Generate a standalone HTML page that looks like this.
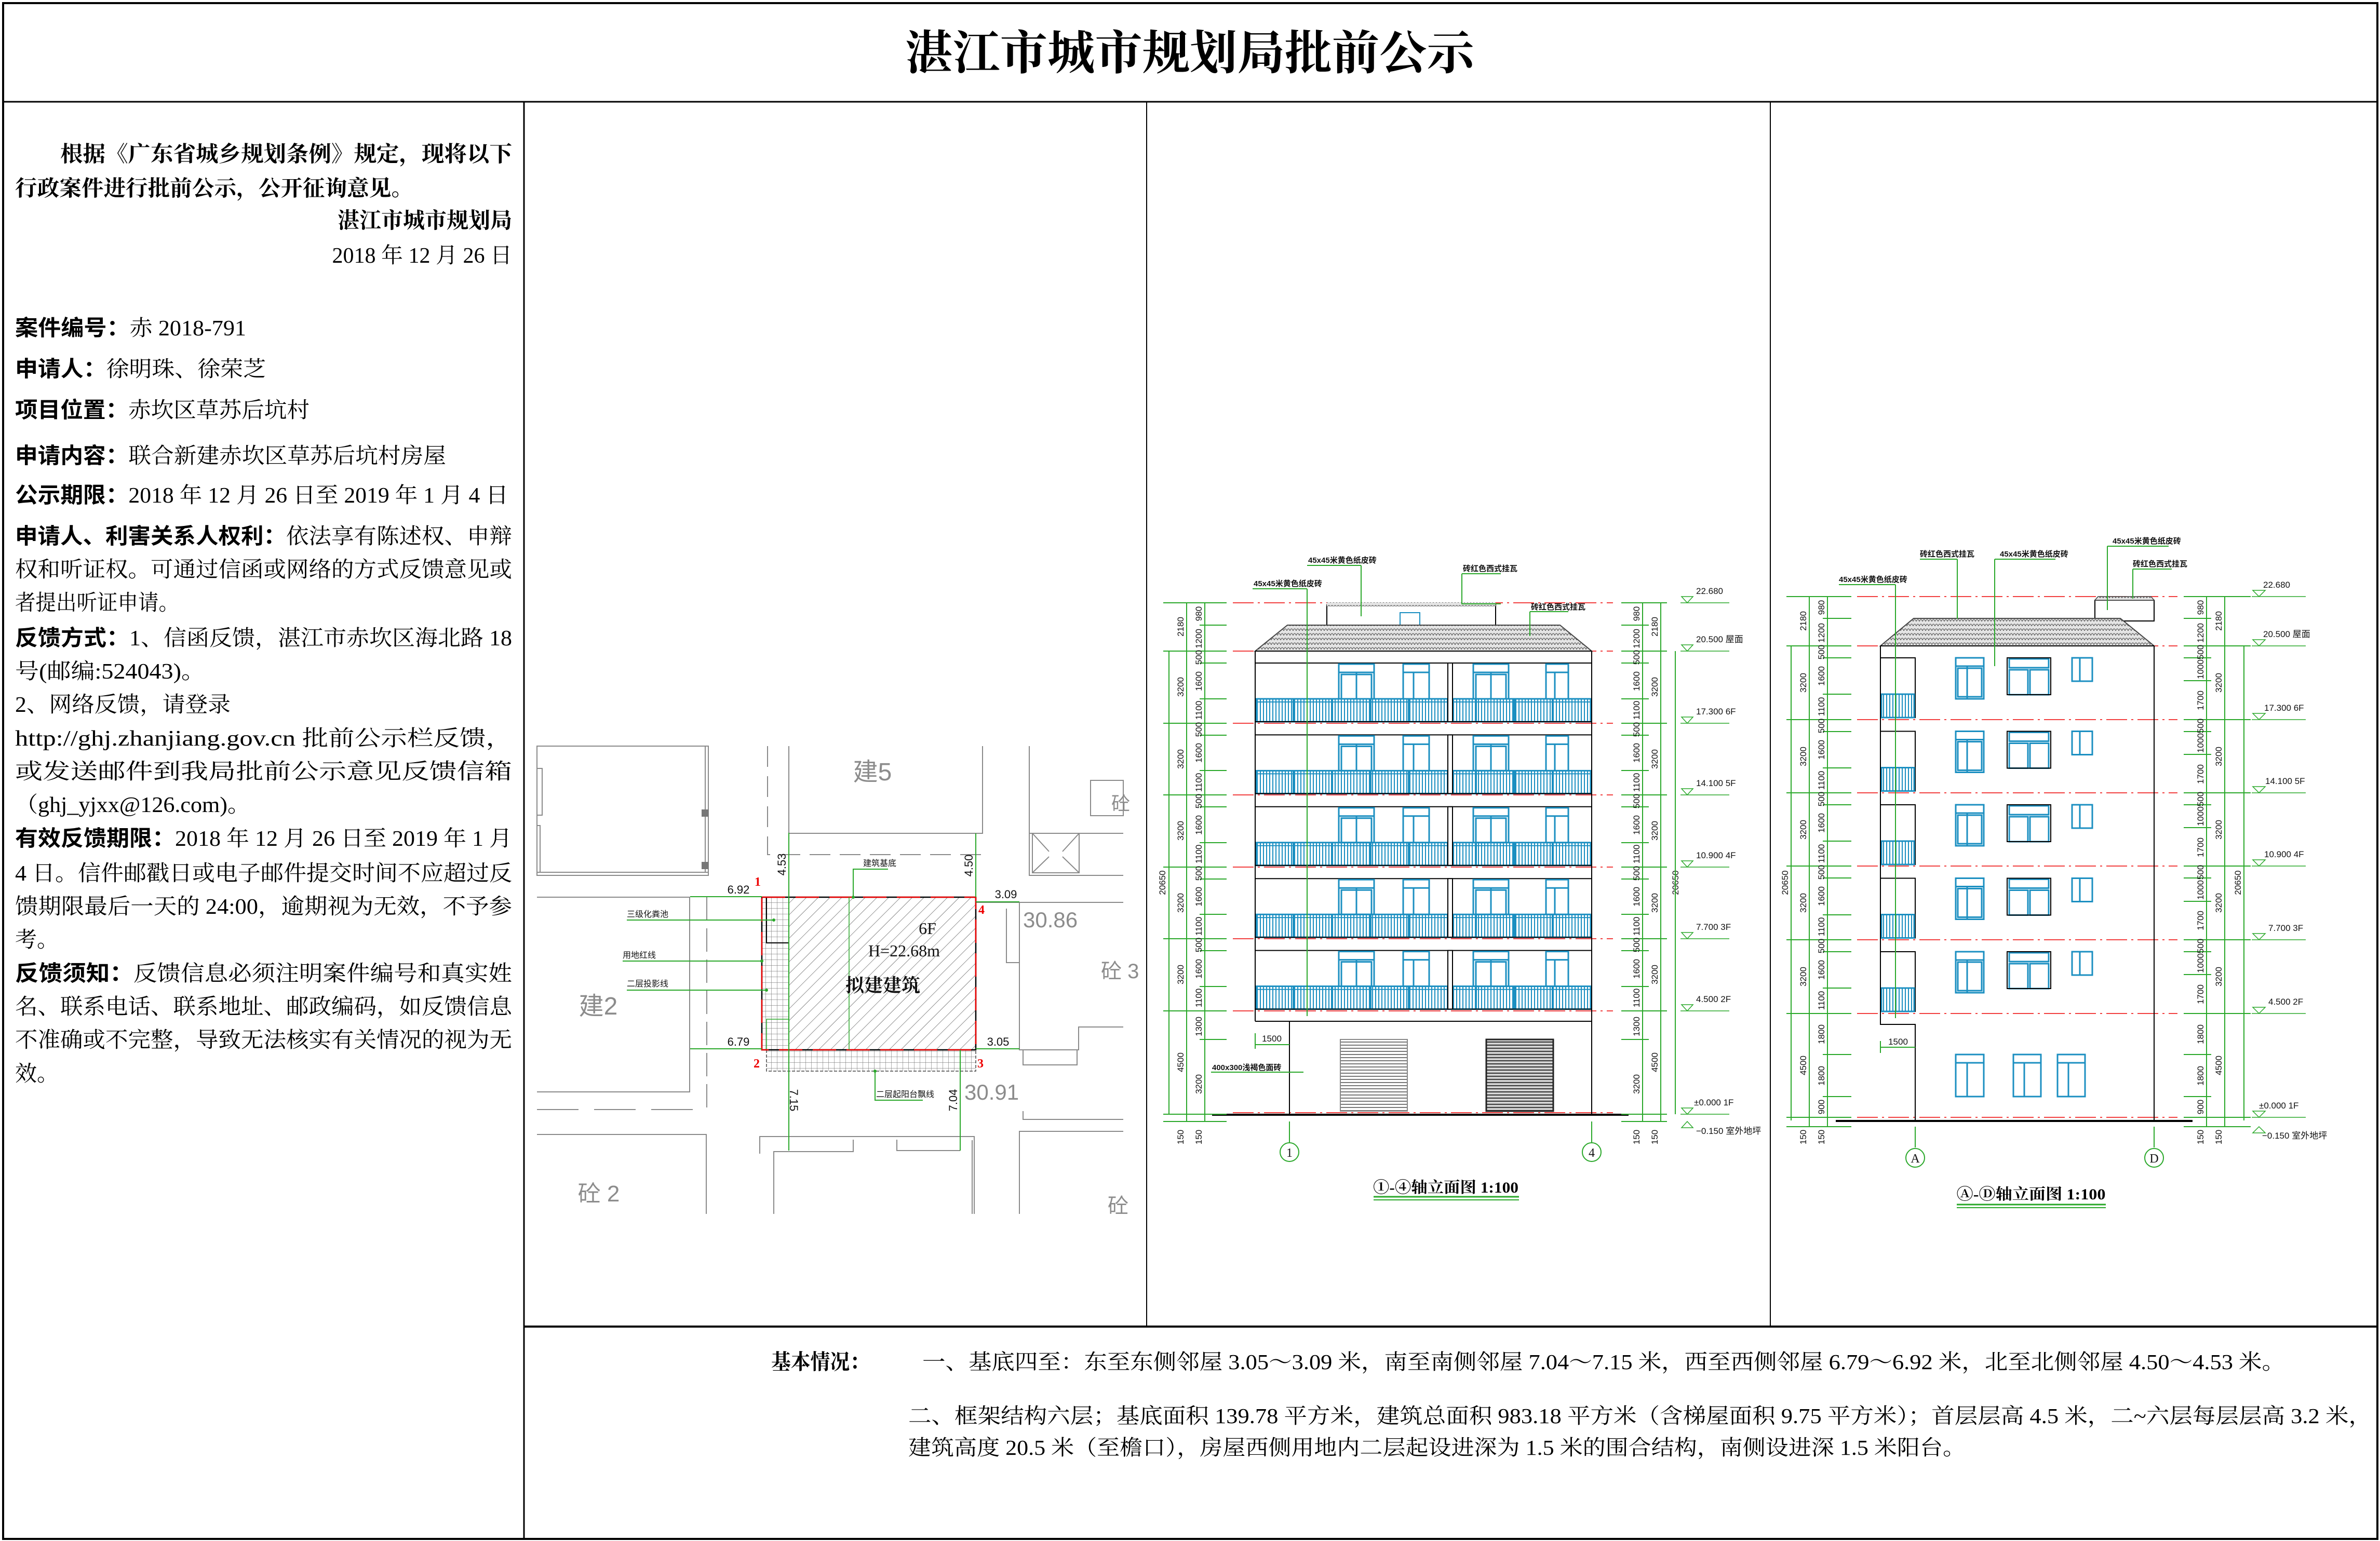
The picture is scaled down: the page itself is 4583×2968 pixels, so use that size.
<!DOCTYPE html>
<html><head><meta charset="utf-8">
<style>
html,body{margin:0;padding:0;background:#fff;}
svg{display:block;}
.s{font-family:"Liberation Serif","Noto Serif CJK SC",serif;}
.h{font-family:"Liberation Sans","Noto Sans CJK SC",sans-serif;}
.d{font-family:"Liberation Sans Narrow","Liberation Sans",sans-serif;font-size:17px;fill:#111;}
.g{font-family:"Liberation Sans","Noto Sans CJK SC",sans-serif;font-size:15px;font-weight:bold;fill:#111;}
.lv{font-family:"Liberation Sans","Noto Sans CJK SC",sans-serif;font-size:17px;fill:#111;}
.gr{font-family:"Liberation Sans","Noto Sans CJK SC",sans-serif;fill:#8c8c8c;}
</style></head>
<body>
<svg width="4583" height="2968" viewBox="0 0 4583 2968" xmlns="http://www.w3.org/2000/svg">
<defs>
<pattern id="tile" width="12" height="9" patternUnits="userSpaceOnUse"><rect width="12" height="9" fill="#e4e4e4"/><path d="M0 9 Q3 1 6 9 Q9 1 12 9" stroke="#666" stroke-width="1.3" fill="none"/></pattern>
<pattern id="bal" width="6" height="10" patternUnits="userSpaceOnUse"><line x1="3" y1="0" x2="3" y2="10" stroke="#1b8fc1" stroke-width="2"/></pattern>
<pattern id="hatch" width="16" height="16" patternUnits="userSpaceOnUse" patternTransform="rotate(45)"><line x1="0" y1="0" x2="0" y2="16" stroke="#555" stroke-width="1.3"/></pattern>
<pattern id="grid" width="11" height="11" patternUnits="userSpaceOnUse"><path d="M0 0H11M0 0V11" stroke="#777" stroke-width="1.2" fill="none"/></pattern>
<pattern id="gar" width="10" height="6" patternUnits="userSpaceOnUse"><rect width="10" height="6" fill="#fff"/><line x1="0" y1="3" x2="10" y2="3" stroke="#777" stroke-width="2"/></pattern>
<pattern id="gar2" width="10" height="6" patternUnits="userSpaceOnUse"><rect width="10" height="6" fill="#ddd"/><line x1="0" y1="3" x2="10" y2="3" stroke="#444" stroke-width="2.5"/></pattern>

<!-- elevation 1 floor module (top floor, L=1254) -->
<g id="f1">
<line x1="2417" y1="1277" x2="3065" y2="1277" stroke="#000" stroke-width="2"/>
<g stroke="#1b8fc1" stroke-width="3" fill="none">
<rect x="2578" y="1279" width="68" height="67"/><line x1="2578" y1="1295" x2="2646" y2="1295"/><line x1="2612" y1="1295" x2="2612" y2="1346"/><rect x="2583" y="1299" width="58" height="47"/>
<rect x="2702" y="1279" width="50" height="67"/><line x1="2702" y1="1295" x2="2752" y2="1295"/><line x1="2722" y1="1295" x2="2722" y2="1346"/>
<rect x="2837" y="1279" width="68" height="67"/><line x1="2837" y1="1295" x2="2905" y2="1295"/><line x1="2871" y1="1295" x2="2871" y2="1346"/><rect x="2842" y="1299" width="58" height="47"/>
<rect x="2977" y="1279" width="43" height="67"/><line x1="2977" y1="1295" x2="3020" y2="1295"/><line x1="2994" y1="1295" x2="2994" y2="1346"/>
</g>
<rect x="2419" y="1346" width="644" height="44" fill="url(#bal)" stroke="#1b8fc1" stroke-width="3"/>
<line x1="2419" y1="1352" x2="3063" y2="1352" stroke="#1b8fc1" stroke-width="2"/>
<g stroke="#1b8fc1" stroke-width="4"><line x1="2491" y1="1346" x2="2491" y2="1390"/><line x1="2565" y1="1346" x2="2565" y2="1390"/><line x1="2639" y1="1346" x2="2639" y2="1390"/><line x1="2713" y1="1346" x2="2713" y2="1390"/><line x1="2842" y1="1346" x2="2842" y2="1390"/><line x1="2916" y1="1346" x2="2916" y2="1390"/><line x1="2990" y1="1346" x2="2990" y2="1390"/></g>
<rect x="2788" y="1277" width="9" height="113" fill="#fff" stroke="#000" stroke-width="2"/>
<line x1="2417" y1="1390" x2="3065" y2="1390" stroke="#000" stroke-width="2"/>
</g>

<!-- elevation 2 floor module (L=1244) -->
<g id="f2">
<rect x="3621" y="1267" width="67" height="115" fill="none" stroke="#000" stroke-width="2"/>
<rect x="3623" y="1337" width="63" height="45" fill="url(#bal)" stroke="#1b8fc1" stroke-width="3"/>
<g stroke="#1b8fc1" stroke-width="3" fill="none">
<rect x="3766" y="1267" width="54" height="79"/><line x1="3766" y1="1283" x2="3820" y2="1283"/><line x1="3788" y1="1283" x2="3788" y2="1346"/><rect x="3770" y="1287" width="46" height="55"/>
<rect x="3869" y="1269" width="76" height="17"/><rect x="3869" y="1290" width="36" height="48"/><rect x="3909" y="1290" width="36" height="48"/>
<rect x="3990" y="1267" width="39" height="45"/><line x1="4005" y1="1267" x2="4005" y2="1312"/>
</g>
<rect x="3865" y="1267" width="84" height="71" fill="none" stroke="#000" stroke-width="2"/>
</g>
</defs>

<rect width="4583" height="2968" fill="#fff"/>
<!-- frame -->
<g stroke="#000" fill="none">
<rect x="6" y="6" width="4572" height="2958" stroke-width="4"/>
<line x1="6" y1="196" x2="4578" y2="196" stroke-width="3"/>
<line x1="1009" y1="196" x2="1009" y2="2964" stroke-width="3"/>
<line x1="2208" y1="196" x2="2208" y2="2555" stroke-width="2"/>
<line x1="3409" y1="196" x2="3409" y2="2555" stroke-width="2"/>
<line x1="1009" y1="2555" x2="4578" y2="2555" stroke-width="4"/>
</g>

<text x="2291" y="133" text-anchor="middle" class="s" font-size="90" font-weight="bold" textLength="1096" lengthAdjust="spacingAndGlyphs">湛江市城市规划局批前公示</text>

<!-- left column text -->
<g class="s" font-size="42" fill="#000">
<text x="116" y="311" font-weight="bold" textLength="870" lengthAdjust="spacingAndGlyphs">根据《广东省城乡规划条例》规定，现将以下</text>
<text x="29" y="377" font-weight="bold" textLength="767" lengthAdjust="spacingAndGlyphs">行政案件进行批前公示，公开征询意见。</text>
<text x="986" y="439" text-anchor="end" font-weight="bold">湛江市城市规划局</text>
<text x="986" y="506" text-anchor="end">2018 年 12 月 26 日</text>
<text x="29" y="646" textLength="445" lengthAdjust="spacingAndGlyphs"><tspan class="h" font-weight="bold">案件编号：</tspan>赤 2018-791</text>
<text x="29" y="725" textLength="483" lengthAdjust="spacingAndGlyphs"><tspan class="h" font-weight="bold">申请人：</tspan>徐明珠、徐荣芝</text>
<text x="29" y="804" textLength="567" lengthAdjust="spacingAndGlyphs"><tspan class="h" font-weight="bold">项目位置：</tspan>赤坎区草苏后坑村</text>
<text x="29" y="892" textLength="830" lengthAdjust="spacingAndGlyphs"><tspan class="h" font-weight="bold">申请内容：</tspan>联合新建赤坎区草苏后坑村房屋</text>
<text x="29" y="968" textLength="950" lengthAdjust="spacingAndGlyphs"><tspan class="h" font-weight="bold">公示期限：</tspan>2018 年 12 月 26 日至 2019 年 1 月 4 日</text>
<text x="29" y="1047" textLength="957" lengthAdjust="spacingAndGlyphs"><tspan class="h" font-weight="bold">申请人、利害关系人权利：</tspan>依法享有陈述权、申辩</text>
<text x="29" y="1111" textLength="957" lengthAdjust="spacingAndGlyphs">权和听证权。可通过信函或网络的方式反馈意见或</text>
<text x="29" y="1175" textLength="316" lengthAdjust="spacingAndGlyphs">者提出听证申请。</text>
<text x="29" y="1243" textLength="957" lengthAdjust="spacingAndGlyphs"><tspan class="h" font-weight="bold">反馈方式：</tspan>1、信函反馈，湛江市赤坎区海北路 18</text>
<text x="29" y="1307" textLength="366" lengthAdjust="spacingAndGlyphs">号(邮编:524043)。</text>
<text x="29" y="1371" textLength="415" lengthAdjust="spacingAndGlyphs">2、网络反馈，请登录</text>
<text x="29" y="1436" textLength="957" lengthAdjust="spacingAndGlyphs">http://ghj.zhanjiang.gov.cn 批前公示栏反馈，</text>
<text x="29" y="1500" textLength="957" lengthAdjust="spacingAndGlyphs">或发送邮件到我局批前公示意见反馈信箱</text>
<text x="29" y="1564" textLength="453" lengthAdjust="spacingAndGlyphs">（ghj_yjxx@126.com)。</text>
<text x="29" y="1629" textLength="957" lengthAdjust="spacingAndGlyphs"><tspan class="h" font-weight="bold">有效反馈期限：</tspan>2018 年 12 月 26 日至 2019 年 1 月</text>
<text x="29" y="1696" textLength="957" lengthAdjust="spacingAndGlyphs">4 日。信件邮戳日或电子邮件提交时间不应超过反</text>
<text x="29" y="1760" textLength="957" lengthAdjust="spacingAndGlyphs">馈期限最后一天的 24:00，逾期视为无效，不予参</text>
<text x="29" y="1824">考。</text>
<text x="29" y="1889" textLength="957" lengthAdjust="spacingAndGlyphs"><tspan class="h" font-weight="bold">反馈须知：</tspan>反馈信息必须注明案件编号和真实姓</text>
<text x="29" y="1953" textLength="957" lengthAdjust="spacingAndGlyphs">名、联系电话、联系地址、邮政编码，如反馈信息</text>
<text x="29" y="2017" textLength="957" lengthAdjust="spacingAndGlyphs">不准确或不完整，导致无法核实有关情况的视为无</text>
<text x="29" y="2082">效。</text>
</g>

<!-- bottom text -->
<g class="s" font-size="41" fill="#000">
<text x="1485" y="2637" font-weight="bold" textLength="189" lengthAdjust="spacingAndGlyphs">基本情况：</text>
<text x="1776" y="2637" textLength="2624" lengthAdjust="spacingAndGlyphs">一、基底四至：东至东侧邻屋 3.05～3.09 米，南至南侧邻屋 7.04～7.15 米，西至西侧邻屋 6.79～6.92 米，北至北侧邻屋 4.50～4.53 米。</text>
<text x="1749" y="2741" textLength="2818" lengthAdjust="spacingAndGlyphs">二、框架结构六层；基底面积 139.78 平方米，建筑总面积 983.18 平方米（含梯屋面积 9.75 平方米）；首层层高 4.5 米，二~六层每层层高 3.2 米，</text>
<text x="1749" y="2802" textLength="2036" lengthAdjust="spacingAndGlyphs">建筑高度 20.5 米（至檐口），房屋西侧用地内二层起设进深为 1.5 米的围合结构，南侧设进深 1.5 米阳台。</text>
</g>

<!-- ================= SITE PLAN ================= -->
<g stroke="#8a8a8a" stroke-width="2" fill="none">
<rect x="1034" y="1437" width="330" height="249"/>
<line x1="1034" y1="1680" x2="1364" y2="1680"/>
<polyline points="1034,1480 1044,1480 1044,1570 1034,1570"/>
<polyline points="1034,1590 1040,1590 1040,1680"/>
<line x1="1358" y1="1437" x2="1358" y2="1680"/>
<polyline points="1478,1437 1478,1646 1892,1646" stroke-dasharray="40,18"/>
<polyline points="1519,1437 1519,1605 1892,1605 1892,1437"/>
<polyline points="1982,1437 1982,1686 2163,1686"/>
<line x1="1982" y1="1605" x2="2163" y2="1605"/>
<rect x="1988" y="1605" width="90" height="76"/>
<path d="M1988 1605L2020 1640M2078 1605L2046 1640M1988 1681L2020 1650M2078 1681L2046 1650"/>
<rect x="2100" y="1503" width="63" height="68"/>
<polyline points="1034,1728 1328,1728 1328,2103 1034,2103"/>
<line x1="1361" y1="1728" x2="1361" y2="2137" stroke-dasharray="45,15"/>
<line x1="1034" y1="2137" x2="1354" y2="2137" stroke-dasharray="80,30"/>
<polyline points="1963,1738 1963,2022 2077,2022 2077,1978 2163,1978"/>
<line x1="1879" y1="1738" x2="2163" y2="1738"/>
<polyline points="1938,1750 1938,1854 1963,1854"/>
<rect x="1970" y="2022" width="104" height="29"/>
<polyline points="1970,2140 1970,2156 2163,2156"/>
<polyline points="1034,2185 1360,2185 1360,2338"/>
<polyline points="1463,2222 1463,2189 1876,2189 1876,2338"/>
<polyline points="1490,2338 1490,2218 1643,2218 1643,2195"/>
<polyline points="1727,2195 1727,2216 1849,2216"/>
<line x1="1872" y1="2196" x2="1872" y2="2338"/>
<polyline points="1963,2338 1963,2179 2163,2179"/>
</g>
<rect x="1351" y="1559" width="13" height="14" fill="#777"/>
<rect x="1351" y="1660" width="13" height="14" fill="#777"/>
<g class="gr">
<text x="1680" y="1503" font-size="48" text-anchor="middle">建5</text>
<text x="1152" y="1954" font-size="48" text-anchor="middle">建2</text>
<text x="1153" y="2314" font-size="44" text-anchor="middle">砼 2</text>
<text x="2010" y="1786" font-size="42" text-anchor="start" dx="-40">30.86</text>
<text x="1897" y="2118" font-size="42" text-anchor="start" dx="-40">30.91</text>
<text x="2120" y="1884" font-size="40">砼 3</text>
<text x="2133" y="2336" font-size="40">砼</text>
<text x="2140" y="1560" font-size="36">砼</text>
</g>
<!-- building footprint -->
<rect x="1519" y="1728" width="360" height="294" fill="url(#hatch)"/>
<rect x="1467" y="1728" width="52" height="294" fill="url(#grid)"/>
<rect x="1476" y="2022" width="403" height="41" fill="url(#grid)" stroke="#444" stroke-width="1.5" stroke-dasharray="6,3"/>
<rect x="1476" y="1728" width="43" height="88" fill="none" stroke="#000" stroke-width="2"/>
<rect x="1476" y="1963" width="43" height="59" fill="none" stroke="#2aa82a" stroke-width="1.5"/>
<rect x="1467" y="1728" width="412" height="294" fill="none" stroke="#000" stroke-width="2.5"/>
<rect x="1467" y="1728" width="412" height="294" fill="none" stroke="#e00" stroke-width="2.5" stroke-dasharray="45,20"/>
<line x1="1635" y1="1728" x2="1635" y2="2022" stroke="#2aa82a" stroke-width="1.5"/>
<g fill="#e00" font-family="Liberation Serif,serif" font-weight="bold" font-size="24">
<text x="1459" y="1706" text-anchor="middle">1</text><text x="1890" y="1760" text-anchor="middle">4</text>
<text x="1457" y="2056" text-anchor="middle">2</text><text x="1888" y="2056" text-anchor="middle">3</text>
</g>
<g class="s" fill="#111">
<text x="1786" y="1799" font-size="32" text-anchor="middle">6F</text>
<text x="1741" y="1842" font-size="32" text-anchor="middle">H=22.68m</text>
<text x="1700" y="1910" font-size="36" font-weight="bold" text-anchor="middle">拟建建筑</text>
</g>
<g stroke="#2aa82a" stroke-width="2" fill="none">
<line x1="1519" y1="1604" x2="1519" y2="2216"/>
<line x1="1879" y1="1605" x2="1879" y2="1728"/>
<line x1="1849" y1="2022" x2="1849" y2="2216"/>
<line x1="1329" y1="1727" x2="1467" y2="1727"/>
<line x1="1329" y1="2020" x2="1467" y2="2020"/>
<line x1="1879" y1="1737" x2="1963" y2="1737"/>
<line x1="1879" y1="2020" x2="1963" y2="2020"/>
<line x1="1207" y1="1772" x2="1490" y2="1772"/>
<line x1="1199" y1="1851" x2="1467" y2="1851"/>
<line x1="1207" y1="1907" x2="1476" y2="1907"/>
<polyline points="1643,1728 1643,1674 1710,1674"/>
<polyline points="1685,2063 1685,2119 1777,2119"/>
</g>
<g fill="#2aa82a"><circle cx="1490" cy="1772" r="3"/><circle cx="1467" cy="1851" r="3"/><circle cx="1476" cy="1907" r="3"/><circle cx="1643" cy="1728" r="3"/><circle cx="1685" cy="2063" r="3"/></g>
<g class="h" font-size="16" fill="#111">
<text x="1207" y="1766">三级化粪池</text>
<text x="1199" y="1845">用地红线</text>
<text x="1207" y="1900">二层投影线</text>
<text x="1662" y="1668">建筑基底</text>
<text x="1687" y="2113">二层起阳台飘线</text>
</g>
<g font-family="Liberation Sans,sans-serif" font-size="22" fill="#111">
<text x="1422" y="1721" text-anchor="middle">6.92</text>
<text x="1422" y="2014" text-anchor="middle">6.79</text>
<text x="1937" y="1730" text-anchor="middle">3.09</text>
<text x="1922" y="2014" text-anchor="middle">3.05</text>
<text transform="translate(1513,1665) rotate(-90)" text-anchor="middle">4.53</text>
<text transform="translate(1873,1667) rotate(-90)" text-anchor="middle">4.50</text>
<text transform="translate(1521,2119) rotate(90)" text-anchor="middle">7.15</text>
<text transform="translate(1843,2119) rotate(-90)" text-anchor="middle">7.04</text>
</g>

<!-- ================= ELEVATION 1 ================= -->
<!-- red dashed level lines -->
<g stroke="#e00" stroke-width="1.5" stroke-dasharray="40,8,4,8">
<line x1="2374" y1="1161" x2="3106" y2="1161"/><line x1="2374" y1="1254" x2="3106" y2="1254"/>
<line x1="2374" y1="1393" x2="3106" y2="1393"/><line x1="2374" y1="1531" x2="3106" y2="1531"/>
<line x1="2374" y1="1670" x2="3106" y2="1670"/><line x1="2374" y1="1808" x2="3106" y2="1808"/>
<line x1="2374" y1="1947" x2="3106" y2="1947"/><line x1="2374" y1="2143" x2="3106" y2="2143"/>
</g>
<rect x="2555" y="1165" width="325" height="40" fill="#fff" stroke="#000" stroke-width="2"/>
<rect x="2555" y="1160" width="325" height="8" fill="url(#tile)"/>
<rect x="2696" y="1180" width="38" height="24" fill="none" stroke="#1b8fc1" stroke-width="2"/>
<polygon points="2417,1254 2479,1204 3004,1204 3065,1254" fill="url(#tile)" stroke="#444" stroke-width="2"/>
<use href="#f1"/>
<use href="#f1" transform="translate(0,138.4)"/>
<use href="#f1" transform="translate(0,276.8)"/>
<use href="#f1" transform="translate(0,415.2)"/>
<use href="#f1" transform="translate(0,553.6)"/>
<g stroke="#000" stroke-width="2" fill="none">
<line x1="2417" y1="1254" x2="3065" y2="1254"/>
<line x1="2417" y1="1254" x2="2417" y2="1967"/>
<line x1="3065" y1="1254" x2="3065" y2="2146"/>
<line x1="2417" y1="1967" x2="3065" y2="1967"/>
<line x1="2483" y1="1967" x2="2483" y2="2146"/>
</g>
<line x1="2334" y1="2147" x2="3136" y2="2147" stroke="#000" stroke-width="4"/>
<rect x="2581" y="2002" width="129" height="138" fill="url(#gar)" stroke="#888" stroke-width="2"/>
<rect x="2862" y="2002" width="129" height="138" fill="url(#gar2)" stroke="#222" stroke-width="3"/>
<!-- dims -->
<g stroke="#2aa82a" stroke-width="2">
<line x1="2251" y1="1254" x2="2251" y2="2146"/><line x1="2285" y1="1161" x2="2285" y2="2160"/><line x1="2320" y1="1161" x2="2320" y2="2160"/>
<line x1="3163" y1="1161" x2="3163" y2="2160"/><line x1="3198" y1="1161" x2="3198" y2="2160"/>
<line x1="2240" y1="1161" x2="2362" y2="1161"/><line x1="2240" y1="1254" x2="2362" y2="1254"/><line x1="2240" y1="1393" x2="2362" y2="1393"/><line x1="2240" y1="1531" x2="2362" y2="1531"/><line x1="2240" y1="1670" x2="2362" y2="1670"/><line x1="2240" y1="1808" x2="2362" y2="1808"/><line x1="2240" y1="1947" x2="2362" y2="1947"/><line x1="2240" y1="2146" x2="2362" y2="2146"/><line x1="2240" y1="2160" x2="2362" y2="2160"/>
<line x1="2310" y1="1204" x2="2362" y2="1204"/><line x1="2310" y1="1277" x2="2362" y2="1277"/><line x1="2310" y1="1346" x2="2362" y2="1346"/><line x1="2310" y1="1416" x2="2362" y2="1416"/><line x1="2310" y1="1484" x2="2362" y2="1484"/><line x1="2310" y1="1554" x2="2362" y2="1554"/><line x1="2310" y1="1623" x2="2362" y2="1623"/><line x1="2310" y1="1693" x2="2362" y2="1693"/><line x1="2310" y1="1761" x2="2362" y2="1761"/><line x1="2310" y1="1831" x2="2362" y2="1831"/><line x1="2310" y1="1900" x2="2362" y2="1900"/><line x1="2310" y1="2002" x2="2362" y2="2002"/>
<line x1="3122" y1="1161" x2="3210" y2="1161"/><line x1="3122" y1="1254" x2="3210" y2="1254"/><line x1="3122" y1="1393" x2="3210" y2="1393"/><line x1="3122" y1="1531" x2="3210" y2="1531"/><line x1="3122" y1="1670" x2="3210" y2="1670"/><line x1="3122" y1="1808" x2="3210" y2="1808"/><line x1="3122" y1="1947" x2="3210" y2="1947"/><line x1="3122" y1="2146" x2="3210" y2="2146"/><line x1="3122" y1="2160" x2="3210" y2="2160"/>
<line x1="3122" y1="1204" x2="3175" y2="1204"/><line x1="3122" y1="1277" x2="3175" y2="1277"/><line x1="3122" y1="1346" x2="3175" y2="1346"/><line x1="3122" y1="1416" x2="3175" y2="1416"/><line x1="3122" y1="1484" x2="3175" y2="1484"/><line x1="3122" y1="1554" x2="3175" y2="1554"/><line x1="3122" y1="1623" x2="3175" y2="1623"/><line x1="3122" y1="1693" x2="3175" y2="1693"/><line x1="3122" y1="1761" x2="3175" y2="1761"/><line x1="3122" y1="1831" x2="3175" y2="1831"/><line x1="3122" y1="1900" x2="3175" y2="1900"/><line x1="3122" y1="2002" x2="3175" y2="2002"/>
<line x1="2517" y1="1134" x2="2517" y2="1957"/><line x1="2412" y1="1134" x2="2517" y2="1134"/>
<line x1="2621" y1="1089" x2="2621" y2="1187"/><line x1="2517" y1="1089" x2="2621" y2="1089"/>
<polyline points="2815,1105 2815,1163 2890,1163" fill="none"/><line x1="2815" y1="1105" x2="2890" y2="1105"/>
<polyline points="2946,1178 2946,1225" fill="none"/><line x1="2946" y1="1178" x2="3020" y2="1178"/>
<line x1="2483" y1="2160" x2="2483" y2="2200"/><line x1="3065" y1="2160" x2="3065" y2="2200"/>
<line x1="2417" y1="2012" x2="2483" y2="2012"/><line x1="2417" y1="1990" x2="2417" y2="2020"/>
<line x1="2332" y1="2065" x2="2510" y2="2065"/>
<line x1="2645" y1="2305" x2="2925" y2="2305" stroke-width="3"/><line x1="2645" y1="2311" x2="2925" y2="2311" stroke-width="2"/>
</g>
<g fill="none" stroke="#2aa82a" stroke-width="2"><circle cx="2483" cy="2219" r="18"/><circle cx="3065" cy="2219" r="18"/></g>
<g class="s" font-size="24" text-anchor="middle" fill="#111"><text x="2483" y="2228">1</text><text x="3065" y="2228">4</text></g>
<g class="g">
<text x="2519" y="1084">45x45米黄色纸皮砖</text>
<text x="2414" y="1129">45x45米黄色纸皮砖</text>
<text x="2817" y="1100">砖红色西式挂瓦</text>
<text x="2948" y="1174">砖红色西式挂瓦</text>
<text x="2334" y="2061">400x300浅褐色面砖</text>
</g>
<text x="2449" y="2006" class="d" text-anchor="middle">1500</text>
<text x="2784" y="2297" class="s" font-size="30" font-weight="bold" text-anchor="middle" textLength="280" lengthAdjust="spacingAndGlyphs">①-④轴立面图  1:100</text>
<!-- elev1 dim texts -->
<g class="d" text-anchor="middle">
<text transform="translate(2244,1700) rotate(-90)">20650</text>
<text transform="translate(2279,1207) rotate(-90)">2180</text>
<text transform="translate(2279,1323) rotate(-90)">3200</text><text transform="translate(2279,1462) rotate(-90)">3200</text><text transform="translate(2279,1600) rotate(-90)">3200</text><text transform="translate(2279,1739) rotate(-90)">3200</text><text transform="translate(2279,1877) rotate(-90)">3200</text>
<text transform="translate(2279,2046) rotate(-90)">4500</text><text transform="translate(2279,2190) rotate(-90)">150</text>
<text transform="translate(2314,1182) rotate(-90)">980</text><text transform="translate(2314,1230) rotate(-90)">1200</text>
<text transform="translate(2314,1266) rotate(-90)">500</text><text transform="translate(2314,1312) rotate(-90)">1600</text><text transform="translate(2314,1368) rotate(-90)">1100</text>
<text transform="translate(2314,1405) rotate(-90)">500</text><text transform="translate(2314,1450) rotate(-90)">1600</text><text transform="translate(2314,1507) rotate(-90)">1100</text>
<text transform="translate(2314,1543) rotate(-90)">500</text><text transform="translate(2314,1589) rotate(-90)">1600</text><text transform="translate(2314,1645) rotate(-90)">1100</text>
<text transform="translate(2314,1682) rotate(-90)">500</text><text transform="translate(2314,1727) rotate(-90)">1600</text><text transform="translate(2314,1784) rotate(-90)">1100</text>
<text transform="translate(2314,1820) rotate(-90)">500</text><text transform="translate(2314,1866) rotate(-90)">1600</text><text transform="translate(2314,1922) rotate(-90)">1100</text>
<text transform="translate(2314,1977) rotate(-90)">1300</text><text transform="translate(2314,2088) rotate(-90)">3200</text><text transform="translate(2314,2190) rotate(-90)">150</text>
<text transform="translate(3192,1207) rotate(-90)">2180</text>
<text transform="translate(3192,1323) rotate(-90)">3200</text><text transform="translate(3192,1462) rotate(-90)">3200</text><text transform="translate(3192,1600) rotate(-90)">3200</text><text transform="translate(3192,1739) rotate(-90)">3200</text><text transform="translate(3192,1877) rotate(-90)">3200</text>
<text transform="translate(3192,2046) rotate(-90)">4500</text><text transform="translate(3192,2190) rotate(-90)">150</text>
<text transform="translate(3157,1182) rotate(-90)">980</text><text transform="translate(3157,1230) rotate(-90)">1200</text>
<text transform="translate(3157,1266) rotate(-90)">500</text><text transform="translate(3157,1312) rotate(-90)">1600</text><text transform="translate(3157,1368) rotate(-90)">1100</text>
<text transform="translate(3157,1405) rotate(-90)">500</text><text transform="translate(3157,1450) rotate(-90)">1600</text><text transform="translate(3157,1507) rotate(-90)">1100</text>
<text transform="translate(3157,1543) rotate(-90)">500</text><text transform="translate(3157,1589) rotate(-90)">1600</text><text transform="translate(3157,1645) rotate(-90)">1100</text>
<text transform="translate(3157,1682) rotate(-90)">500</text><text transform="translate(3157,1727) rotate(-90)">1600</text><text transform="translate(3157,1784) rotate(-90)">1100</text>
<text transform="translate(3157,1820) rotate(-90)">500</text><text transform="translate(3157,1866) rotate(-90)">1600</text><text transform="translate(3157,1922) rotate(-90)">1100</text>
<text transform="translate(3157,1977) rotate(-90)">1300</text><text transform="translate(3157,2088) rotate(-90)">3200</text><text transform="translate(3157,2190) rotate(-90)">150</text>
<text transform="translate(3232,1700) rotate(-90)">20650</text>
</g>
<line x1="3226" y1="1254" x2="3226" y2="2146" stroke="#2aa82a" stroke-width="2"/>
<!-- elev1 level labels -->
<g stroke="#2aa82a" stroke-width="1.5" fill="none">
<path d="M3236 1161H3330M3238 1149L3249 1161L3260 1149Z"/><path d="M3236 1254H3330M3238 1242L3249 1254L3260 1242Z"/>
<path d="M3236 1393H3330M3238 1381L3249 1393L3260 1381Z"/><path d="M3236 1531H3330M3238 1519L3249 1531L3260 1519Z"/>
<path d="M3236 1670H3330M3238 1658L3249 1670L3260 1658Z"/><path d="M3236 1808H3330M3238 1796L3249 1808L3260 1796Z"/>
<path d="M3236 1947H3330M3238 1935L3249 1947L3260 1935Z"/><path d="M3236 2146H3330M3238 2134L3249 2146L3260 2134Z"/>
<path d="M3238 2172L3249 2160L3260 2172Z"/>
</g>
<g class="lv">
<text x="3266" y="1144">22.680</text><text x="3266" y="1237">20.500 屋面</text><text x="3266" y="1376">17.300 6F</text>
<text x="3266" y="1514">14.100 5F</text><text x="3266" y="1653">10.900 4F</text><text x="3266" y="1791">7.700 3F</text>
<text x="3266" y="1930">4.500 2F</text><text x="3262" y="2129">±0.000 1F</text><text x="3266" y="2184">−0.150 室外地坪</text>
</g>

<!-- ================= ELEVATION 2 ================= -->
<g stroke="#e00" stroke-width="1.5" stroke-dasharray="40,8,4,8">
<line x1="3576" y1="1149" x2="4193" y2="1149"/><line x1="3576" y1="1244" x2="4193" y2="1244"/>
<line x1="3576" y1="1386" x2="4193" y2="1386"/><line x1="3576" y1="1527" x2="4193" y2="1527"/>
<line x1="3576" y1="1668" x2="4193" y2="1668"/><line x1="3576" y1="1810" x2="4193" y2="1810"/>
<line x1="3576" y1="1952" x2="4193" y2="1952"/><line x1="3576" y1="2152" x2="4193" y2="2152"/>
</g>
<rect x="4034" y="1156" width="114" height="40" fill="#fff" stroke="#000" stroke-width="2"/>
<polygon points="4034,1156 4040,1149 4142,1149 4148,1156" fill="url(#tile)" stroke="#444" stroke-width="1.5"/>
<polygon points="3621,1244 3685,1191 4083,1191 4148,1244" fill="url(#tile)" stroke="#444" stroke-width="2"/>
<use href="#f2"/>
<use href="#f2" transform="translate(0,141.5)"/>
<use href="#f2" transform="translate(0,283)"/>
<use href="#f2" transform="translate(0,424.5)"/>
<use href="#f2" transform="translate(0,566)"/>
<g stroke="#000" stroke-width="2" fill="none">
<line x1="3621" y1="1244" x2="4148" y2="1244"/>
<polyline points="3621,1244 3621,1973 3688,1973 3688,2158"/>
<line x1="4148" y1="1244" x2="4148" y2="2158"/>
</g>
<line x1="3535" y1="2159" x2="4222" y2="2159" stroke="#000" stroke-width="4"/>
<g stroke="#1b8fc1" stroke-width="3" fill="none">
<rect x="3766" y="2031" width="54" height="81"/><line x1="3766" y1="2047" x2="3820" y2="2047"/><line x1="3788" y1="2047" x2="3788" y2="2112"/>
<rect x="3877" y="2031" width="53" height="81"/><line x1="3877" y1="2047" x2="3930" y2="2047"/><line x1="3898" y1="2047" x2="3898" y2="2112"/>
<rect x="3962" y="2031" width="53" height="81"/><line x1="3962" y1="2047" x2="4015" y2="2047"/><line x1="3983" y1="2047" x2="3983" y2="2112"/>
</g>
<g stroke="#2aa82a" stroke-width="2">
<line x1="3449" y1="1244" x2="3449" y2="2158"/><line x1="3484" y1="1149" x2="3484" y2="2170"/><line x1="3519" y1="1149" x2="3519" y2="2170"/>
<line x1="4249" y1="1149" x2="4249" y2="2170"/><line x1="4284" y1="1149" x2="4284" y2="2170"/><line x1="4321" y1="1244" x2="4321" y2="2158"/>
<line x1="3440" y1="1149" x2="3565" y2="1149"/><line x1="3440" y1="1244" x2="3565" y2="1244"/><line x1="3440" y1="1386" x2="3565" y2="1386"/><line x1="3440" y1="1527" x2="3565" y2="1527"/><line x1="3440" y1="1668" x2="3565" y2="1668"/><line x1="3440" y1="1810" x2="3565" y2="1810"/><line x1="3440" y1="1952" x2="3565" y2="1952"/><line x1="3440" y1="2152" x2="3565" y2="2152"/><line x1="3440" y1="2170" x2="3565" y2="2170"/>
<line x1="3510" y1="1191" x2="3565" y2="1191"/><line x1="3510" y1="1267" x2="3565" y2="1267"/><line x1="3510" y1="1337" x2="3565" y2="1337"/><line x1="3510" y1="1409" x2="3565" y2="1409"/><line x1="3510" y1="1479" x2="3565" y2="1479"/><line x1="3510" y1="1550" x2="3565" y2="1550"/><line x1="3510" y1="1620" x2="3565" y2="1620"/><line x1="3510" y1="1691" x2="3565" y2="1691"/><line x1="3510" y1="1762" x2="3565" y2="1762"/><line x1="3510" y1="1833" x2="3565" y2="1833"/><line x1="3510" y1="1903" x2="3565" y2="1903"/><line x1="3510" y1="2031" x2="3565" y2="2031"/><line x1="3510" y1="2112" x2="3565" y2="2112"/>
<line x1="4205" y1="1149" x2="4334" y2="1149"/><line x1="4205" y1="1244" x2="4334" y2="1244"/><line x1="4205" y1="1386" x2="4334" y2="1386"/><line x1="4205" y1="1527" x2="4334" y2="1527"/><line x1="4205" y1="1668" x2="4334" y2="1668"/><line x1="4205" y1="1810" x2="4334" y2="1810"/><line x1="4205" y1="1952" x2="4334" y2="1952"/><line x1="4205" y1="2152" x2="4334" y2="2152"/><line x1="4205" y1="2170" x2="4334" y2="2170"/>
<line x1="4205" y1="1191" x2="4258" y2="1191"/><line x1="4205" y1="1267" x2="4258" y2="1267"/><line x1="4205" y1="1311" x2="4258" y2="1311"/><line x1="4205" y1="1409" x2="4258" y2="1409"/><line x1="4205" y1="1453" x2="4258" y2="1453"/><line x1="4205" y1="1550" x2="4258" y2="1550"/><line x1="4205" y1="1594" x2="4258" y2="1594"/><line x1="4205" y1="1691" x2="4258" y2="1691"/><line x1="4205" y1="1736" x2="4258" y2="1736"/><line x1="4205" y1="1833" x2="4258" y2="1833"/><line x1="4205" y1="1877" x2="4258" y2="1877"/><line x1="4205" y1="2031" x2="4258" y2="2031"/><line x1="4205" y1="2112" x2="4258" y2="2112"/>
<line x1="3650" y1="1126" x2="3650" y2="1961"/><line x1="3541" y1="1126" x2="3650" y2="1126"/>
<line x1="3769" y1="1077" x2="3769" y2="1192"/><line x1="3697" y1="1077" x2="3769" y2="1077"/>
<line x1="3841" y1="1077" x2="3841" y2="1283"/><line x1="3841" y1="1077" x2="3958" y2="1077"/>
<line x1="4058" y1="1052" x2="4058" y2="1175"/><line x1="4058" y1="1052" x2="4176" y2="1052"/>
<line x1="4107" y1="1096" x2="4107" y2="1153"/><line x1="4107" y1="1096" x2="4182" y2="1096"/>
<line x1="3621" y1="2017" x2="3688" y2="2017"/><line x1="3621" y1="2005" x2="3621" y2="2028"/>
<line x1="3688" y1="2170" x2="3688" y2="2210"/><line x1="4148" y1="2170" x2="4148" y2="2210"/>
<line x1="3768" y1="2320" x2="4055" y2="2320" stroke-width="3"/><line x1="3768" y1="2326" x2="4055" y2="2326" stroke-width="2"/>
</g>
<g fill="none" stroke="#2aa82a" stroke-width="2"><ellipse cx="3688" cy="2230" rx="18" ry="18"/><ellipse cx="4148" cy="2230" rx="18" ry="18"/></g>
<g class="s" font-size="24" text-anchor="middle" fill="#111"><text x="3688" y="2239">A</text><text x="4148" y="2239">D</text></g>
<g class="g">
<text x="3697" y="1072">砖红色西式挂瓦</text>
<text x="3851" y="1072">45x45米黄色纸皮砖</text>
<text x="3541" y="1121">45x45米黄色纸皮砖</text>
<text x="4068" y="1047">45x45米黄色纸皮砖</text>
<text x="4107" y="1091">砖红色西式挂瓦</text>
</g>
<text x="3655" y="2012" class="d" text-anchor="middle">1500</text>
<text x="3911" y="2310" class="s" font-size="30" font-weight="bold" text-anchor="middle" textLength="287" lengthAdjust="spacingAndGlyphs">Ⓐ-Ⓓ轴立面图  1:100</text>
<g class="d" text-anchor="middle">
<text transform="translate(3443,1700) rotate(-90)">20650</text>
<text transform="translate(3478,1196) rotate(-90)">2180</text>
<text transform="translate(3478,1315) rotate(-90)">3200</text><text transform="translate(3478,1457) rotate(-90)">3200</text><text transform="translate(3478,1598) rotate(-90)">3200</text><text transform="translate(3478,1739) rotate(-90)">3200</text><text transform="translate(3478,1881) rotate(-90)">3200</text>
<text transform="translate(3478,2052) rotate(-90)">4500</text><text transform="translate(3478,2190) rotate(-90)">150</text>
<text transform="translate(3513,1170) rotate(-90)">980</text><text transform="translate(3513,1219) rotate(-90)">1200</text>
<text transform="translate(3513,1256) rotate(-90)">500</text><text transform="translate(3513,1302) rotate(-90)">1600</text><text transform="translate(3513,1361) rotate(-90)">1100</text>
<text transform="translate(3513,1398) rotate(-90)">500</text><text transform="translate(3513,1444) rotate(-90)">1600</text><text transform="translate(3513,1503) rotate(-90)">1100</text>
<text transform="translate(3513,1539) rotate(-90)">500</text><text transform="translate(3513,1585) rotate(-90)">1600</text><text transform="translate(3513,1644) rotate(-90)">1100</text>
<text transform="translate(3513,1680) rotate(-90)">500</text><text transform="translate(3513,1726) rotate(-90)">1600</text><text transform="translate(3513,1785) rotate(-90)">1100</text>
<text transform="translate(3513,1822) rotate(-90)">500</text><text transform="translate(3513,1868) rotate(-90)">1600</text><text transform="translate(3513,1927) rotate(-90)">1100</text>
<text transform="translate(3513,1992) rotate(-90)">1800</text><text transform="translate(3513,2072) rotate(-90)">1800</text><text transform="translate(3513,2132) rotate(-90)">900</text><text transform="translate(3513,2190) rotate(-90)">150</text>
<text transform="translate(4243,1170) rotate(-90)">980</text><text transform="translate(4243,1219) rotate(-90)">1200</text>
<text transform="translate(4243,1256) rotate(-90)">500</text><text transform="translate(4243,1289) rotate(-90)">1000</text><text transform="translate(4243,1349) rotate(-90)">1700</text>
<text transform="translate(4243,1398) rotate(-90)">500</text><text transform="translate(4243,1431) rotate(-90)">1000</text><text transform="translate(4243,1491) rotate(-90)">1700</text>
<text transform="translate(4243,1539) rotate(-90)">500</text><text transform="translate(4243,1572) rotate(-90)">1000</text><text transform="translate(4243,1632) rotate(-90)">1700</text>
<text transform="translate(4243,1680) rotate(-90)">500</text><text transform="translate(4243,1714) rotate(-90)">1000</text><text transform="translate(4243,1773) rotate(-90)">1700</text>
<text transform="translate(4243,1822) rotate(-90)">500</text><text transform="translate(4243,1855) rotate(-90)">1000</text><text transform="translate(4243,1915) rotate(-90)">1700</text>
<text transform="translate(4243,1992) rotate(-90)">1800</text><text transform="translate(4243,2072) rotate(-90)">1800</text><text transform="translate(4243,2132) rotate(-90)">900</text><text transform="translate(4243,2190) rotate(-90)">150</text>
<text transform="translate(4278,1196) rotate(-90)">2180</text>
<text transform="translate(4278,1315) rotate(-90)">3200</text><text transform="translate(4278,1457) rotate(-90)">3200</text><text transform="translate(4278,1598) rotate(-90)">3200</text><text transform="translate(4278,1739) rotate(-90)">3200</text><text transform="translate(4278,1881) rotate(-90)">3200</text>
<text transform="translate(4278,2052) rotate(-90)">4500</text><text transform="translate(4278,2190) rotate(-90)">150</text>
<text transform="translate(4315,1700) rotate(-90)">20650</text>
</g>
<g stroke="#2aa82a" stroke-width="1.5" fill="none">
<path d="M4336 1149H4440M4338 1137L4350 1149L4362 1137Z"/><path d="M4336 1244H4440M4338 1232L4350 1244L4362 1232Z"/>
<path d="M4336 1386H4440M4338 1374L4350 1386L4362 1374Z"/><path d="M4336 1527H4440M4338 1515L4350 1527L4362 1515Z"/>
<path d="M4336 1668H4440M4338 1656L4350 1668L4362 1656Z"/><path d="M4336 1810H4440M4338 1798L4350 1810L4362 1798Z"/>
<path d="M4336 1952H4440M4338 1940L4350 1952L4362 1940Z"/><path d="M4336 2152H4440M4338 2140L4350 2152L4362 2140Z"/>
<path d="M4338 2182L4350 2170L4362 2182Z"/>
</g>
<g class="lv">
<text x="4358" y="1132">22.680</text><text x="4358" y="1227">20.500 屋面</text><text x="4360" y="1369">17.300 6F</text>
<text x="4362" y="1510">14.100 5F</text><text x="4360" y="1651">10.900 4F</text><text x="4368" y="1793">7.700 3F</text>
<text x="4368" y="1935">4.500 2F</text><text x="4350" y="2135">±0.000 1F</text><text x="4356" y="2193">−0.150 室外地坪</text>
</g>
</svg>
</body></html>
